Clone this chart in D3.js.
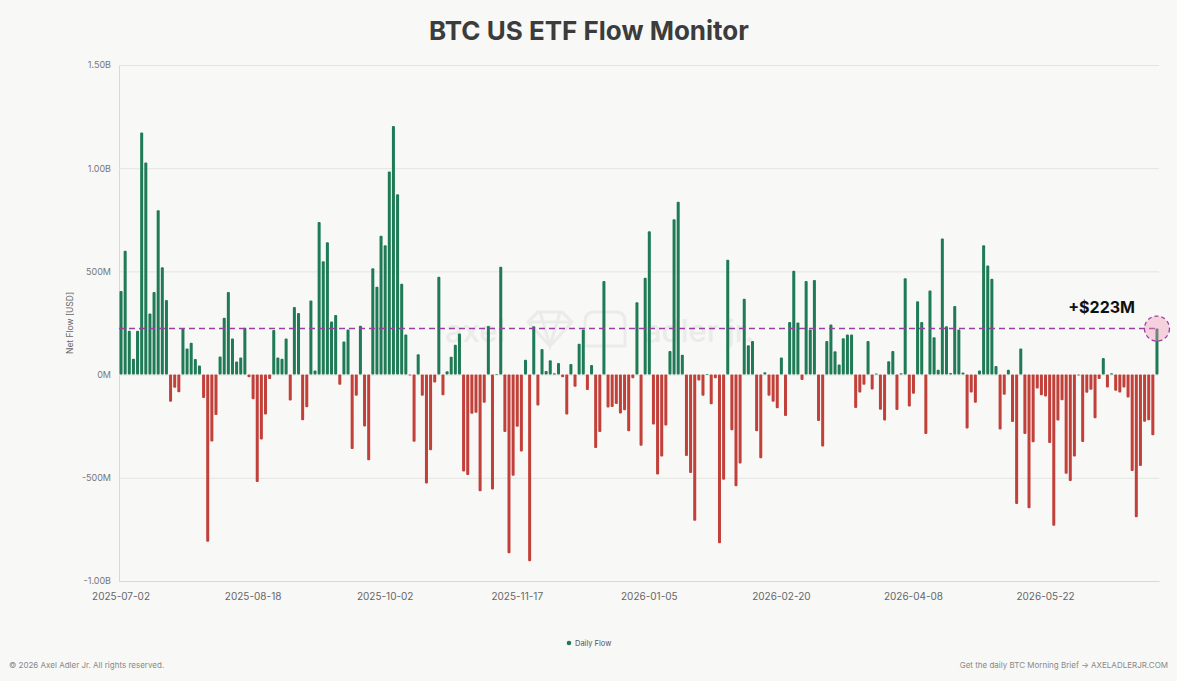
<!DOCTYPE html>
<html><head><meta charset="utf-8">
<script src="https://cdn.jsdelivr.net/npm/d3@7"></script>
<style>
html,body{margin:0;padding:0;background:#f8f8f6;}
svg{display:block;font-family:Inter,"Noto Sans",sans-serif;}
</style>
</head><body>
<svg id="chart" width="1177" height="681"></svg>
<script>
// ---------- DATA ----------
const titleText = "BTC US ETF Flow Monitor";
const seriesName = "Daily Flow";
const yAxisTitle = "Net Flow [USD]";
const latestLabel = "+$223M";
const startDate = "2025-07-02";
const endDate = "2026-07-02";
const marketHolidays = ["2025-07-04","2025-09-01","2025-11-27","2025-12-25","2026-01-01",
  "2026-01-19","2026-02-16","2026-04-03","2026-05-25","2026-06-19"];
const tickLabels = ["2025-07-02","2025-08-18","2025-10-02","2025-11-17","2026-01-05",
  "2026-02-20","2026-04-08","2026-05-22"];
const yTickValues = [-1000,-500,0,500,1000,1500]; // millions USD
// daily net flow, millions USD
const flows = [
  405,600,212,77,212,1173,1028,296,400,796,520,361,-131,-64,-85,222,127,154,75,44,-113,-810,-324,-196,88,275,400,175,64,83,227,-13,
  -119,-520,-314,-193,-21,216,83,77,175,-126,328,299,-221,-158,359,20,739,549,641,257,289,-49,160,219,-361,-103,237,-252,-415,515,426,673,
  627,984,1204,874,440,194,-4,-325,98,-103,-528,-366,-38,474,-100,16,87,145,199,-469,-487,-190,-185,-565,-136,235,-557,3,523,-278,-866,-490,
  -253,-373,72,-904,234,-150,124,18,69,7,56,-13,-193,51,-59,150,219,-75,46,-356,-278,453,-160,-157,-142,-188,-173,-275,-18,351,-345,469,
  694,-242,-484,-397,-247,114,753,838,96,-394,-477,-708,-29,-103,3,-144,-18,-817,-510,557,-270,-541,-431,368,142,163,-275,-405,11,-103,-132,-163,
  83,-201,255,503,252,-26,454,219,458,-225,-348,163,243,113,49,176,194,194,-162,-87,-49,163,-72,5,-170,-222,65,114,-172,7,467,-155,
  -93,355,255,-288,408,181,23,660,234,8,332,219,10,-261,-87,-136,20,627,529,464,42,-266,-98,23,-230,-627,127,-288,-647,-328,-67,-100,
  -106,-332,-732,-222,-124,-480,-516,-397,-2,-327,-88,-74,-212,-21,80,-62,6,-78,-87,-62,-111,-467,-691,-443,-229,-221,-294,223
];
const footerLeft = "© 2026 Axel Adler Jr. All rights reserved.";
const footerRight = "Get the daily BTC Morning Brief → AXELADLERJR.COM";

// ---------- CATEGORIES (US trading days) ----------
const dates = [];
for (let d = new Date(startDate + "T00:00:00Z"); d <= new Date(endDate + "T00:00:00Z"); d.setUTCDate(d.getUTCDate() + 1)) {
  const wd = d.getUTCDay();
  const s = d.toISOString().slice(0, 10);
  if (wd === 0 || wd === 6 || marketHolidays.includes(s)) continue;
  dates.push(s);
}
const data = dates.map((d, i) => ({date: d, value: flows[i]})).filter(d => d.value !== undefined);

// ---------- LAYOUT ----------
const GREEN = "#1f7a56", RED = "#c2403a", PURPLE = "#9b3fa3";
const svg = d3.select("#chart");
const plot = {left: 119, right: 1159, top: 65, bottom: 581};

const x = d3.scaleBand().domain(data.map(d => d.date)).range([plot.left, plot.right]).paddingInner(0.27).paddingOuter(0.13);
const y = d3.scaleLinear().domain([-1000, 1500]).range([plot.bottom, plot.top]);

const fmt = v => v === 0 ? "0M" : (Math.abs(v) >= 1000 ? (v / 1000).toFixed(2) + "B" : v + "M");

// Title
svg.append("text").attr("x", 589).attr("y", 40).attr("text-anchor", "middle")
  .attr("font-size", 26).attr("font-weight", 700).attr("fill", "#3c3c3c").text(titleText);

// Watermark
const wm = svg.append("g").attr("fill", "#ebebe9").attr("font-size", 31).attr("font-weight", 500);
wm.append("text").attr("x", 445).attr("y", 342).text("axel");
wm.append("text").attr("x", 644).attr("y", 342).text("adler jr.");
wm.append("path").attr("d", "M528,322 L538,312 L562,312 L572,322 L550,346 Z M528,322 L572,322 M540,312 L550,346 L560,312")
  .attr("fill", "none").attr("stroke", "#ebebe9").attr("stroke-width", 3);
wm.append("path").attr("d", "M585,346 L585,322 Q585,312 594,312 L616,312 Q625,312 625,322 L625,346 Z")
  .attr("fill", "none").attr("stroke", "#ebebe9").attr("stroke-width", 3);

// Y grid + labels
const yAxis = d3.axisLeft(y).tickValues(yTickValues).tickFormat(fmt).tickSize(-(plot.right - plot.left)).tickPadding(8);
const gy = svg.append("g").attr("transform", `translate(${plot.left},0)`).call(yAxis);
gy.select(".domain").attr("stroke", "#d8d8d6");
gy.selectAll(".tick line").attr("stroke", "#e4e4e2").attr("stroke-width", 1);
gy.selectAll(".tick text").attr("fill", "#777").attr("font-size", 9).attr("font-family", "Inter,sans-serif");

// X axis
const xAxis = d3.axisBottom(x).tickValues(tickLabels).tickSize(0).tickPadding(12);
const gx = svg.append("g").attr("transform", `translate(0,${plot.bottom})`).call(xAxis);
gx.select(".domain").attr("stroke", "#d8d8d6");
gx.selectAll(".tick text").attr("fill", "#666").attr("font-size", 10).attr("font-family", "Inter,sans-serif");

// Y axis title
svg.append("text").attr("transform", `translate(73,${(plot.top + plot.bottom) / 2}) rotate(-90)`)
  .attr("text-anchor", "middle").attr("font-size", 8.5).attr("fill", "#666").text(yAxisTitle);

// Bars
svg.append("g").selectAll("rect").data(data).join("rect")
  .attr("x", d => x(d.date))
  .attr("width", x.bandwidth())
  .attr("y", d => y(Math.max(0, d.value)))
  .attr("height", d => Math.max(0.8, Math.abs(y(d.value) - y(0))))
  .attr("rx", 1)
  .attr("fill", d => d.value >= 0 ? GREEN : RED);

// Latest value reference line & marker
const last = data[data.length - 1];
const ly = y(last.value);
svg.append("line").attr("x1", plot.left).attr("x2", plot.right).attr("y1", ly).attr("y2", ly)
  .attr("stroke", PURPLE).attr("stroke-width", 1.4).attr("stroke-dasharray", "6,4");
const cx = x(last.date) + x.bandwidth() / 2;
svg.append("circle").attr("cx", cx).attr("cy", ly).attr("r", 12.5)
  .attr("fill", "rgba(240,150,185,0.4)").attr("stroke", PURPLE).attr("stroke-width", 1.3).attr("stroke-dasharray", "4,3");
svg.append("text").attr("x", cx - 22).attr("y", ly - 16).attr("text-anchor", "end")
  .attr("font-size", 16).attr("font-weight", 700).attr("fill", "#111")
  .text(latestLabel);

// Legend
const lg = svg.append("g").attr("transform", "translate(569,643)");
lg.append("circle").attr("r", 2.3).attr("fill", GREEN);
lg.append("text").attr("x", 6).attr("y", 3).attr("font-size", 7.5).attr("fill", "#555").text(seriesName);

// Footer
svg.append("text").attr("x", 9).attr("y", 668).attr("font-size", 8).attr("fill", "#888").text(footerLeft);
svg.append("text").attr("x", 1168).attr("y", 668).attr("text-anchor", "end").attr("font-size", 8).attr("fill", "#888").text(footerRight);
</script>
</body></html>
